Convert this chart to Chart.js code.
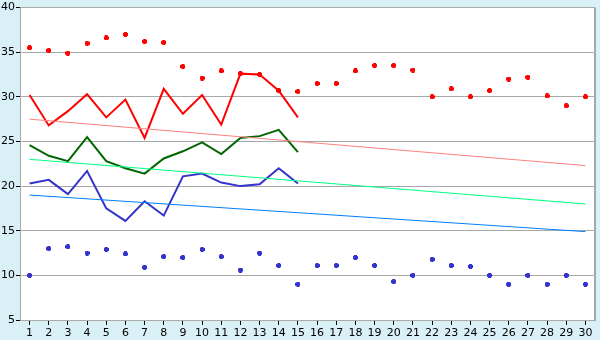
<!DOCTYPE html>
<html>
<head>
<meta charset="utf-8">
<script src="https://cdn.jsdelivr.net/npm/chart.js@4"></script>
<style>
  html, body { margin: 0; padding: 0; background: #d9f0f7; }
  #wrap { width: 600px; height: 340px; }
</style>
</head>
<body>
<div id="wrap"><canvas id="chart"></canvas></div>
<script>
const days = Array.from({ length: 30 }, (_, i) => String(i + 1));

const highPoints = [35.5, 35.2, 34.9, 36.0, 36.6, 37.0, 36.2, 36.1, 33.4, 32.1,
  32.9, 32.6, 32.5, 30.7, 30.6, 31.5, 31.5, 32.9, 33.5, 33.5,
  33.0, 30.0, 30.9, 30.0, 30.7, 32.0, 32.2, 30.1, 29.0, 30.0];
const lowPoints = [10.0, 13.0, 13.2, 12.5, 12.9, 12.4, 10.9, 12.1, 12.0, 12.9,
  12.1, 10.6, 12.5, 11.1, 9.0, 11.1, 11.1, 12.0, 11.1, 9.3,
  10.0, 11.8, 11.1, 11.0, 10.0, 9.0, 10.0, 9.0, 10.0, 9.0];

const maxLine = [30.2, 26.8, 28.4, 30.3, 27.7, 29.7, 25.4, 30.9, 28.1, 30.2, 26.9, 32.6, 32.5, 30.7, 27.7];
const avgLine = [24.6, 23.4, 22.8, 25.5, 22.8, 22.0, 21.4, 23.1, 23.9, 24.9, 23.6, 25.4, 25.6, 26.3, 23.8];
const minLine = [20.3, 20.7, 19.1, 21.7, 17.5, 16.1, 18.3, 16.7, 21.1, 21.4, 20.4, 20.0, 20.2, 22.0, 20.3];

const normalMax = [27.5, ...Array(28).fill(null), 22.3];
const normalAvg = [23.0, ...Array(28).fill(null), 18.0];
const normalMin = [19.0, ...Array(28).fill(null), 14.9];

const yTicks = [5, 10, 15, 20, 25, 30, 35, 40];

// little bold plus used by the day max/min dots
function marker(color) {
  const c = document.createElement("canvas");
  c.width = 5; c.height = 5;
  const g = c.getContext("2d");
  g.fillStyle = color;
  g.fillRect(1, 0, 3, 5);
  g.fillRect(0, 1, 5, 3);
  return c;
}

const background = {
  id: "background",
  beforeDraw(chart) {
    const { ctx, chartArea: a } = chart;
    ctx.save();
    ctx.fillStyle = "#d9f0f7";
    ctx.fillRect(0, 0, chart.width, chart.height);
    ctx.fillStyle = "#ffffff";
    ctx.fillRect(a.left, a.top, a.right - a.left, a.bottom - a.top);
    ctx.restore();
  },
  afterDraw(chart) {
    const { ctx, chartArea: a } = chart;
    ctx.save();
    ctx.strokeStyle = "#a8a8a8";
    ctx.lineWidth = 2;
    ctx.beginPath();
    ctx.moveTo(a.right, a.top);
    ctx.lineTo(a.right, a.bottom);
    ctx.stroke();
    ctx.restore();
  }
};

function line(data, color, width) {
  return {
    type: "line", data, borderColor: color, backgroundColor: color,
    borderWidth: width, pointRadius: 0, tension: 0, spanGaps: true
  };
}

function dots(data, color) {
  return {
    type: "line", data, showLine: false, borderColor: color,
    pointStyle: marker(color), pointRadius: 3
  };
}

new Chart(document.getElementById("chart"), {
  type: "line",
  data: {
    labels: days,
    datasets: [
      line(normalMax, "#ff8080", 1),
      line(normalAvg, "#00ff80", 1),
      line(normalMin, "#0080ff", 1),
      line(maxLine, "#ff0000", 2),
      line(avgLine, "#006600", 2),
      line(minLine, "#3333cc", 2),
      dots(highPoints, "#ff0000"),
      dots(lowPoints, "#3333cc")
    ]
  },
  options: {
    responsive: true,
    maintainAspectRatio: false,
    animation: false,
    layout: { padding: { top: 5, right: 5, left: 0, bottom: 0 } },
    plugins: { legend: { display: false }, tooltip: { enabled: false } },
    scales: {
      x: {
        offset: true,
        grid: { display: true, drawOnChartArea: false, offset: false, tickLength: 5, tickColor: "#000" },
        border: { color: "#a8a8a8" },
        ticks: { color: "#000", font: { family: "DejaVu Sans", size: 11 }, padding: 2, maxRotation: 0, autoSkip: false },
        afterFit(s) { s.height = 20; }
      },
      y: {
        min: 5, max: 40,
        afterBuildTicks(s) { s.ticks = yTicks.map(v => ({ value: v })); },
        grid: { color: "#a8a8a8", tickLength: 4, tickColor: "#000" },
        border: { color: "#a8a8a8" },
        ticks: { color: "#000", font: { family: "DejaVu Sans", size: 11 }, padding: 1 },
        afterFit(s) { s.width = 20; }
      }
    }
  },
  plugins: [background]
});
</script>
</body>
</html>
